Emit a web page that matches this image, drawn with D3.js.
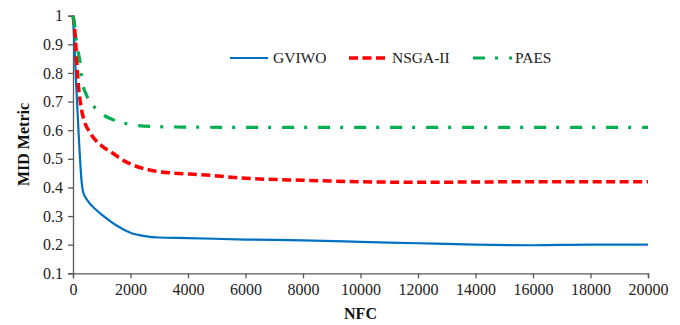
<!DOCTYPE html>
<html>
<head>
<meta charset="utf-8">
<script src="https://cdn.jsdelivr.net/npm/d3@7"></script>
<style>
  html, body { margin: 0; padding: 0; background: #fff; }
  svg { display: block; font-family: "Liberation Serif", "Times New Roman", serif; }
</style>
</head>
<body>
<svg id="chart" width="680" height="325"></svg>
<script>
// NFC sample points and MID metric per algorithm
const gviwoNfc = [0, 50, 100, 200, 300, 350, 500, 800, 1000, 1500, 2000, 2500, 3000, 4000, 6000, 8000, 10000, 12000, 14000, 16000, 18000, 20000];
const gviwoMid = [1.0, 0.9, 0.78, 0.58, 0.42, 0.385, 0.355, 0.322, 0.305, 0.268, 0.242, 0.23, 0.225, 0.223, 0.218, 0.215, 0.21, 0.205, 0.2, 0.198, 0.2, 0.2];

const nsgaNfc = [0, 70, 160, 300, 400, 600, 1000, 1300, 1800, 2000, 2700, 3500, 4400, 6000, 8000, 10000, 12000, 14000, 16000, 18000, 20000];
const nsgaMid = [1.0, 0.94, 0.79, 0.67, 0.63, 0.59, 0.545, 0.525, 0.492, 0.482, 0.46, 0.45, 0.445, 0.432, 0.425, 0.42, 0.418, 0.419, 0.42, 0.42, 0.42];

const paesNfc = [0, 40, 130, 240, 300, 480, 860, 1400, 2000, 2700, 3800, 6000, 8000, 10000, 12000, 14000, 16000, 18000, 20000];
const paesMid = [1.0, 0.98, 0.9, 0.84, 0.78, 0.72, 0.67, 0.636, 0.62, 0.613, 0.611, 0.61, 0.61, 0.61, 0.61, 0.61, 0.61, 0.61, 0.61];

const xTicks = [0, 2000, 4000, 6000, 8000, 10000, 12000, 14000, 16000, 18000, 20000];
const yTicks = [0.1, 0.2, 0.3, 0.4, 0.5, 0.6, 0.7, 0.8, 0.9, 1];

const seriesNames = ["GVIWO", "NSGA-II", "PAES"];

const series = [
  { name: seriesNames[0], nfc: gviwoNfc, mid: gviwoMid, color: "#0070C0", width: 2.2, dash: null },
  { name: seriesNames[1], nfc: nsgaNfc, mid: nsgaMid, color: "#FF0000", width: 3.5, dash: "9,4.5" },
  { name: seriesNames[2], nfc: paesNfc, mid: paesMid, color: "#00B050", width: 3.2, dash: "12,10,3,11" }
];

const svg = d3.select("#chart");
const plotLeft = 73, plotRight = 648, plotTop = 15.7, plotBottom = 273.3;

const x = d3.scaleLinear().domain([0, 20000]).range([plotLeft, plotRight]);
const y = d3.scaleLinear().domain([0.1, 1]).range([plotBottom, plotTop]);

const axisColor = "#595959";

// X axis
const xAxis = svg.append("g")
  .attr("transform", `translate(0,${plotBottom})`)
  .call(d3.axisBottom(x).tickValues(xTicks).tickFormat(d3.format("d")).tickSizeOuter(0).tickSize(5).tickPadding(5));
// Y axis
const yAxis = svg.append("g")
  .attr("transform", `translate(${plotLeft},0)`)
  .call(d3.axisLeft(y).tickValues(yTicks).tickFormat(d => d === 1 ? "1" : d3.format(".1f")(d)).tickSizeOuter(0).tickSize(5).tickPadding(5));

[xAxis, yAxis].forEach(g => {
  g.selectAll("path").attr("stroke", axisColor).attr("stroke-width", 1.3);
  g.selectAll("line").attr("stroke", axisColor).attr("stroke-width", 1.3);
  g.selectAll("text")
    .attr("fill", "#222")
    .style("font-family", '"Liberation Serif", "Times New Roman", serif')
    .style("font-size", "16px");
});

// Axis titles
svg.append("text")
  .attr("x", (plotLeft + plotRight) / 2)
  .attr("y", 319)
  .attr("text-anchor", "middle")
  .attr("font-weight", "bold")
  .attr("font-size", 16)
  .attr("fill", "#111")
  .text("NFC");

svg.append("text")
  .attr("transform", `translate(29,${(plotTop + plotBottom) / 2}) rotate(-90)`)
  .attr("text-anchor", "middle")
  .attr("font-weight", "bold")
  .attr("font-size", 16)
  .attr("fill", "#111")
  .text("MID Metric");

// Curves
const line = d3.line()
  .x(d => x(d[0]))
  .y(d => y(d[1]))
  .curve(d3.curveMonotoneX);

series.forEach(s => {
  const pts = s.nfc.map((n, i) => [n, s.mid[i]]);
  svg.append("path")
    .datum(pts)
    .attr("fill", "none")
    .attr("stroke", s.color)
    .attr("stroke-width", s.width)
    .attr("stroke-dasharray", s.dash)
    .attr("stroke-linejoin", "round")
    .attr("d", line);
});

// Legend
const legendItems = [
  { x1: 230, x2: 268, tx: 273 },
  { x1: 349, x2: 386, tx: 392 },
  { x1: 473, x2: 512, tx: 515 }
];
const legendY = 58;
series.forEach((s, i) => {
  const li = legendItems[i];
  svg.append("line")
    .attr("x1", li.x1).attr("x2", li.x2)
    .attr("y1", legendY).attr("y2", legendY)
    .attr("stroke", s.color)
    .attr("stroke-width", s.width)
    .attr("stroke-dasharray", s.dash);
  svg.append("text")
    .attr("x", li.tx)
    .attr("y", legendY + 5)
    .attr("font-size", 15.5)
    .attr("fill", "#222")
    .text(s.name);
});
</script>
</body>
</html>
